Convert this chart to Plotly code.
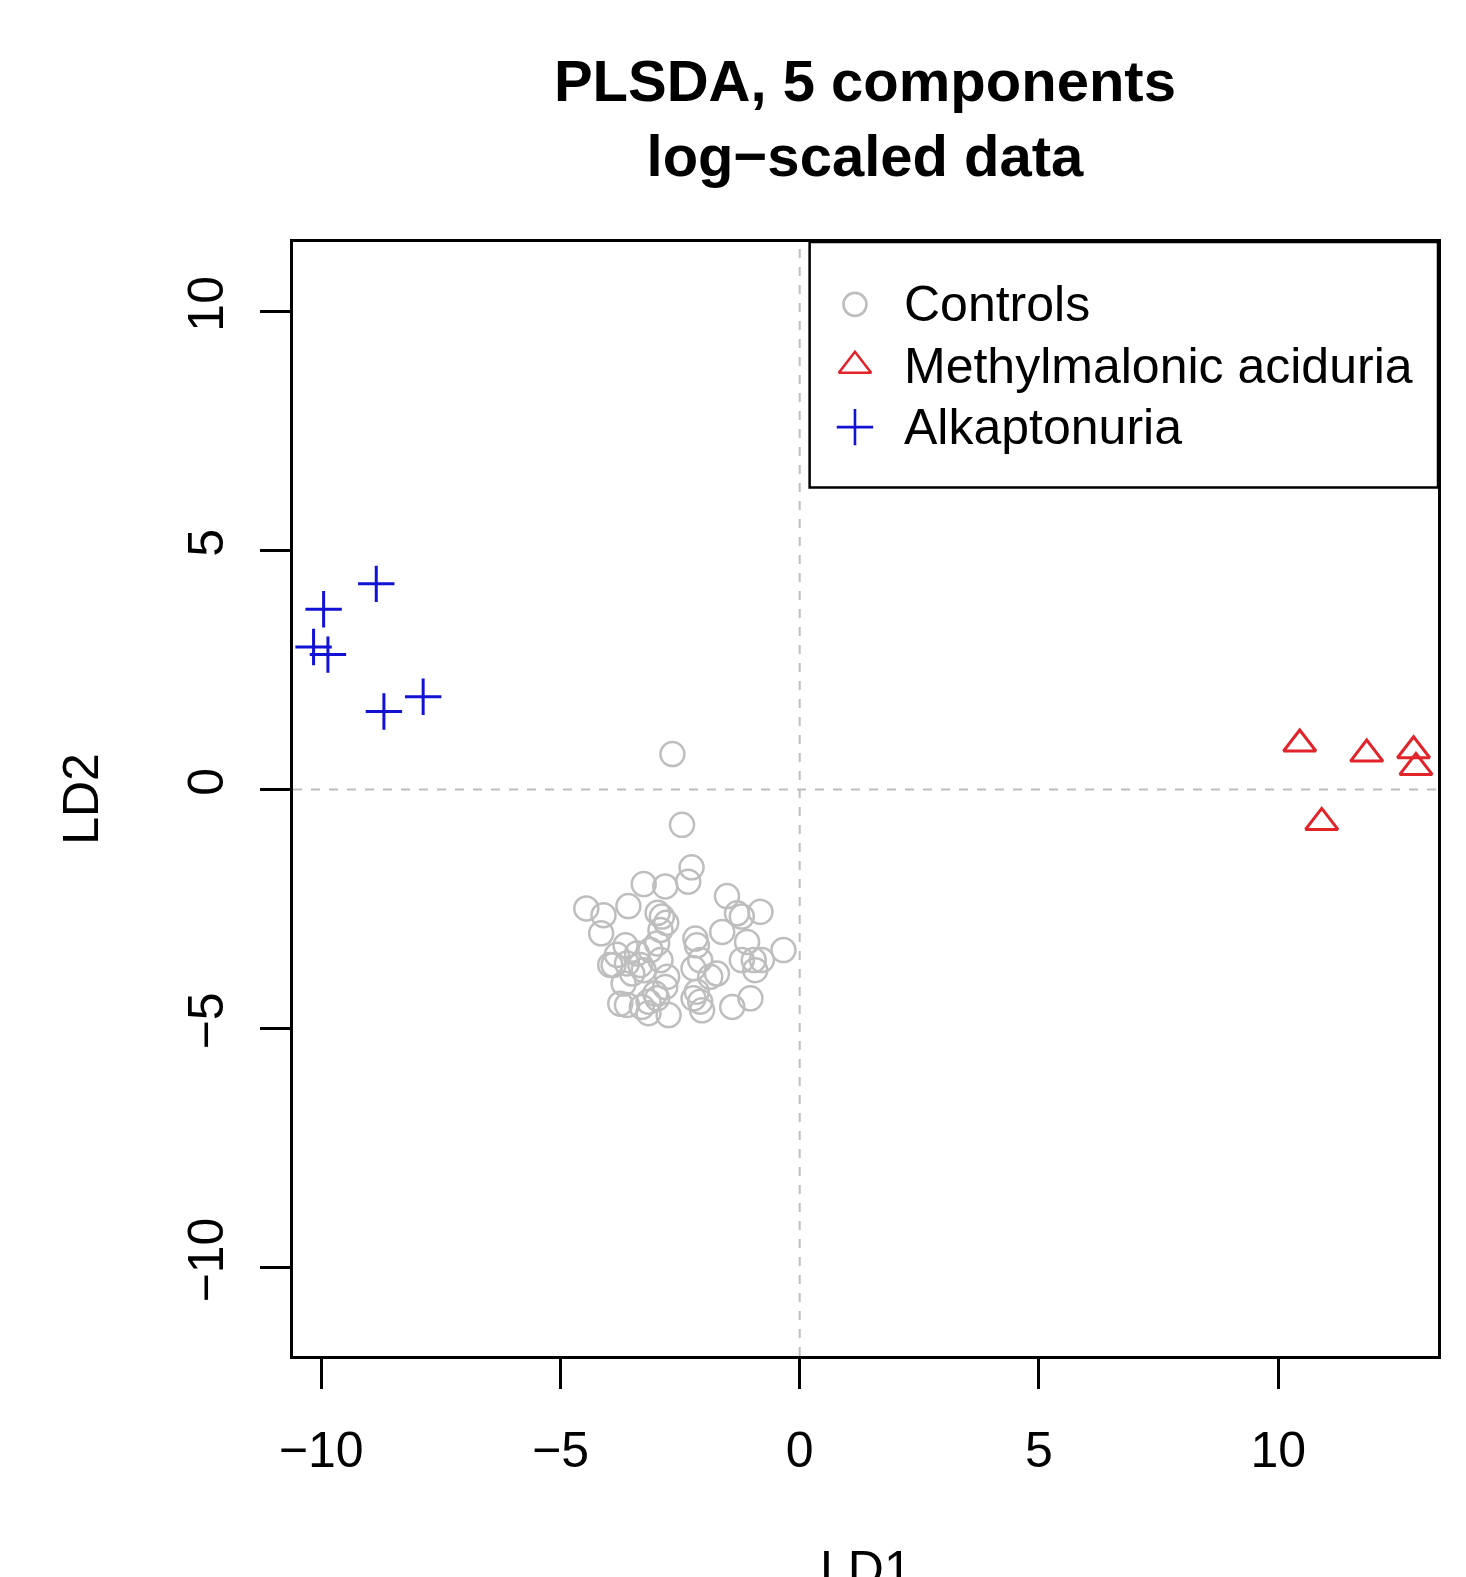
import plotly.graph_objects as go

# Controls (LD1, LD2)
ctrl_x = [-2.66, -2.46, -2.26, -2.33, -3.26, -2.81, -4.46, -4.10, -3.58, -2.97,
          -2.79, -4.15, -1.52, -1.31, -0.82, -1.21, -1.62, -1.10, -0.34, -2.18,
          -2.15, -2.91, -2.98, -3.64, -3.82, -3.40, -3.12, -3.89, -3.61, -3.33,
          -3.50, -3.26, -2.91, -2.08, -2.22, -1.73, -1.21, -0.96, -0.79, -0.93,
          -2.77, -2.81, -3.02, -3.75, -3.61, -3.30, -3.16, -2.98, -2.74, -3.16,
          -2.15, -2.08, -2.04, -2.22, -1.41, -1.03, -3.96, -3.68, -1.87, -2.88]
ctrl_y = [0.74, -0.74, -1.63, -1.93, -1.98, -2.03, -2.49, -2.63, -2.44, -2.58,
          -2.79, -3.01, -2.23, -2.59, -2.56, -2.66, -2.98, -3.19, -3.36, -3.12,
          -3.26, -2.94, -3.22, -3.26, -3.46, -3.43, -3.36, -3.67, -3.64, -3.67,
          -3.85, -3.78, -3.57, -3.57, -3.74, -3.85, -3.57, -3.57, -3.57, -3.78,
          -3.92, -4.13, -4.27, -4.48, -4.51, -4.55, -4.44, -4.37, -4.72, -4.68,
          -4.23, -4.44, -4.62, -4.37, -4.55, -4.37, -3.67, -4.06, -3.92, -2.66]

# Methylmalonic aciduria
mma_x = [10.45, 11.85, 12.83, 12.88, 10.91]
mma_y = [0.95, 0.74, 0.81, 0.46, -0.69]

# Alkaptonuria
alk_x = [-8.85, -9.95, -10.16, -9.86, -8.69, -7.87]
alk_y = [4.30, 3.77, 2.98, 2.82, 1.63, 1.94]

group_names = ["Controls", "Methylmalonic aciduria", "Alkaptonuria"]

tick_vals = [-10, -5, 0, 5, 10]
tick_text = ["\u221210", "\u22125", "0", "5", "10"]

FONT = "Liberation Sans, Arial, sans-serif"
GRAY = "#bebebe"
RED = "#e0242a"
BLUE = "#1212d4"

fig = go.Figure()
fig.add_trace(go.Scatter(x=ctrl_x, y=ctrl_y, mode="markers", name=group_names[0],
                         marker=dict(symbol="circle-open", size=24, color=GRAY,
                                     line=dict(width=2.5, color=GRAY))))
fig.add_trace(go.Scatter(x=mma_x, y=mma_y, mode="markers", name=group_names[1],
                         marker=dict(symbol="triangle-up-open", size=28, color=RED,
                                     line=dict(width=3, color=RED))))
fig.add_trace(go.Scatter(x=alk_x, y=alk_y, mode="markers", name=group_names[2],
                         marker=dict(symbol="cross-thin-open", size=26, color=BLUE,
                                     line=dict(width=3, color=BLUE))))

# Legend keys drawn on an overlay axis in paper-like [0,1] space
leg_rows = [0.9440, 0.8889, 0.8338]
leg_sym_x = 0.4908
leg_text_x = 0.5321
leg_symbols = [("circle-open", 23, GRAY), ("triangle-up-open", 28, RED), ("cross-thin-open", 26, BLUE)]
for (sym, sz, col), ry in zip(leg_symbols, leg_rows):
    fig.add_trace(go.Scatter(x=[leg_sym_x], y=[ry], xaxis="x2", yaxis="y2", mode="markers",
                             showlegend=False, hoverinfo="skip",
                             marker=dict(symbol=sym, size=sz, color=col,
                                         line=dict(width=2.6, color=col))))

fig.add_shape(type="line", xref="x", yref="paper", x0=0, x1=0, y0=0, y1=1,
              line=dict(color=GRAY, width=2, dash="9px,9px"), layer="below")
fig.add_shape(type="line", xref="paper", yref="y", x0=0, x1=1, y0=0, y1=0,
              line=dict(color=GRAY, width=2, dash="9px,9px"), layer="below")
# legend box
fig.add_shape(type="rect", xref="paper", yref="paper", x0=0.4512, x1=1.0, y0=0.7796, y1=1.0,
              line=dict(color="black", width=2.5), fillcolor="white", layer="below")

annotations = [
    dict(text="LD1", xref="paper", yref="paper", x=0.5, y=-0.1916,
         xanchor="center", yanchor="middle", showarrow=False, font=dict(size=50)),
    dict(text="LD2", xref="paper", yref="paper", x=-0.1853, y=0.5,
         xanchor="center", yanchor="middle", showarrow=False, textangle=-90,
         font=dict(size=50)),
]
for name, ry in zip(group_names, leg_rows):
    annotations.append(dict(text=name, xref="paper", yref="paper", x=leg_text_x, y=ry,
                            xanchor="left", yanchor="middle", showarrow=False,
                            font=dict(size=50, color="black")))

fig.update_layout(
    width=1466, height=1577,
    margin=dict(l=293, r=28, t=242, b=221),
    paper_bgcolor="white", plot_bgcolor="white",
    font=dict(family=FONT, size=50, color="black"),
    title=dict(text="<b>PLSDA, 5 components<br>log\u2212scaled data</b>",
               x=0.59, xanchor="center", y=1 - 101 / 1577, yanchor="middle",
               yref="container", font=dict(size=58, family=FONT, color="black")),
    showlegend=False,
    xaxis=dict(range=[-10.59, 13.34], tickvals=tick_vals, ticktext=tick_text,
               ticks="outside", ticklen=30, tickwidth=2.5, tickcolor="black",
               ticklabelstandoff=18,
               showgrid=False, zeroline=False, showline=True, mirror=True,
               linecolor="black", linewidth=2.5, tickfont=dict(size=50)),
    yaxis=dict(range=[-11.85, 11.45], tickvals=tick_vals, ticktext=tick_text,
               ticks="outside", ticklen=30, tickwidth=2.5, tickcolor="black",
               ticklabelstandoff=17,
               showgrid=False, zeroline=False, showline=True, mirror=True,
               linecolor="black", linewidth=2.5, tickangle=-90, tickfont=dict(size=50)),
    xaxis2=dict(overlaying="x", range=[0, 1], visible=False, fixedrange=True),
    yaxis2=dict(overlaying="y", range=[0, 1], visible=False, fixedrange=True),
    annotations=annotations,
)

fig.write_html("out.html")
